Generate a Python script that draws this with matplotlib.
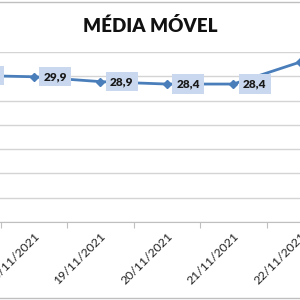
import matplotlib.pyplot as plt
from matplotlib.lines import Line2D

dates = ["17/11/2021", "18/11/2021", "19/11/2021", "20/11/2021",
         "21/11/2021", "22/11/2021"]
media = [30.2, 29.9, 28.9, 28.4, 28.4, 32.9]
labels = ["30,2", "29,9", "28,9", "28,4", "28,4", "32,9"]

plt.rcParams['font.family'] = ['Lato', 'DejaVu Sans']

fig = plt.figure(figsize=(3, 3), dpi=100)
# plot area is wider than the picture (the original chart is cropped)
ax = fig.add_axes([-0.22, 0.26, 1.33, 0.5667])

x = list(range(len(media)))
ax.plot(x, media, color='#4a7ebb', lw=2, marker='D', ms=4.5, zorder=3)

for xi, yi, t in zip(x, media, labels):
    ax.annotate(t, (xi, yi), xytext=(7, 0), textcoords='offset points',
                ha='left', va='center', fontsize=8.5, fontweight='heavy',
                color='#1a1a1a', zorder=4,
                bbox=dict(boxstyle='square,pad=0.35', fc='#c9d8ee', ec='none'))

ax.set_xlim(-0.5, len(media) - 0.5)
ax.set_ylim(0, 35)
ax.set_yticks(range(0, 36, 5))
ax.yaxis.grid(True, color='#d4d4d4', lw=1)
ax.set_axisbelow(True)
ax.tick_params(axis='y', left=False, labelleft=False)

ax.set_xticks([i - 0.5 for i in range(len(media) + 1)])
ax.set_xticklabels([])
ax.tick_params(axis='x', which='major', length=4, color='#bfbfbf', direction='out')
ax.set_xticks(x, minor=True)
ax.set_xticklabels(dates, minor=True, rotation=45, ha='right', va='top',
                   rotation_mode='anchor', fontsize=8.8, color='#222222')
ax.tick_params(axis='x', which='minor', length=0, pad=6)

for s in ['left', 'right', 'top']:
    ax.spines[s].set_visible(False)
ax.spines['bottom'].set_color('#bfbfbf')

fig.text(0.5, 0.913, "MÉDIA MÓVEL", ha='center', va='center',
         fontsize=13.5, fontweight='heavy', color='#111111')

# chart border
fig.add_artist(Line2D([0, 1], [0.994, 0.994], color='#bfbfbf', lw=1))
fig.add_artist(Line2D([0, 1], [0.007, 0.007], color='#bfbfbf', lw=1))

fig.savefig("out.png", dpi=100)
